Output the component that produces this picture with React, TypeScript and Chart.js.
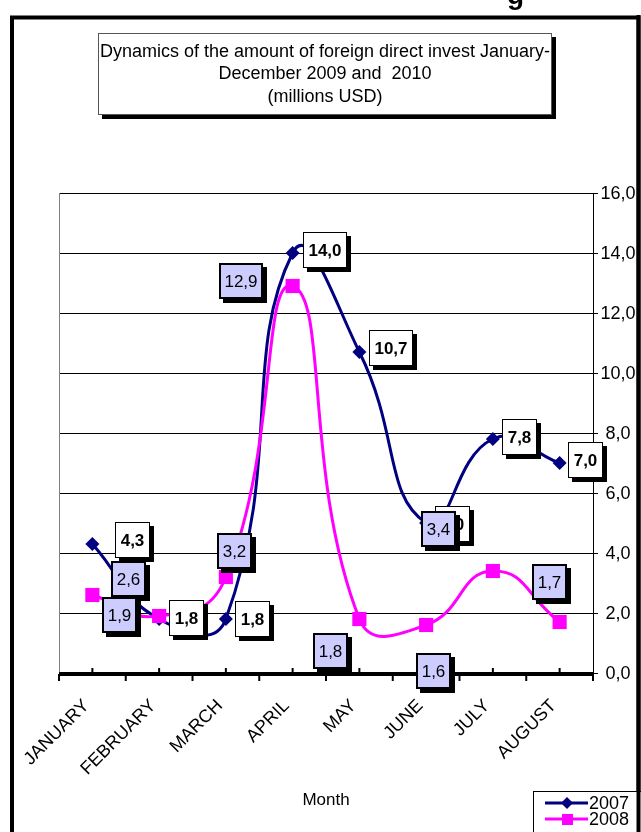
import React, { useEffect, useRef } from 'react';
import { Chart, registerables } from 'chart.js';

Chart.register(...registerables);

const months = ['JANUARY', 'FEBRUARY', 'MARCH', 'APRIL', 'MAY', 'JUNE', 'JULY', 'AUGUST'];
const series2007 = [4.3, 1.8, 1.8, 14.0, 10.7, 5.0, 7.8, 7.0];
const series2008 = [2.6, 1.9, 3.2, 12.9, 1.8, 1.6, 3.4, 1.7];
const yTickValues = [0, 2, 4, 6, 8, 10, 12, 14, 16];
const titleLines = [
  'Dynamics of the amount of foreign direct invest January-',
  'December 2009 and  2010',
  '(millions USD)',
];
const xAxisTitle = 'Month';
const seriesNames = ['2007', '2008'];

// label box offsets (px) relative to each point – layout only
const labelOffsets2007 = [[40, -4], [27, -1], [27, 0], [32, -3], [32, -4], [26, 1], [27, -2], [26, -3]];
const labelOffsets2008 = [[36, -16], [-40, -1], [9, -26], [-52, -5], [-29, 32], [7, 46], [-54, -42], [-10, -40]];

const FONT = '"Liberation Sans", Arial, sans-serif';
const NAVY = '#000080';
const MAGENTA = '#FF00FF';
const LAVENDER = '#CCCCFF';

const fmt = (v: number) => v.toFixed(1).replace('.', ',');

const decorPlugin = {
  id: 'decor',
  beforeDraw(chart: any) {
    const ctx = chart.ctx;
    ctx.save();
    ctx.fillStyle = '#fff';
    ctx.fillRect(0, 0, chart.width, chart.height);
    // partial text at top
    ctx.fillStyle = '#000';
    ctx.font = `bold 28px ${FONT}`;
    ctx.textAlign = 'left';
    ctx.textBaseline = 'alphabetic';
    ctx.fillText('g', 507, 4);
    // outer frame
    ctx.strokeStyle = '#000';
    ctx.lineWidth = 4;
    ctx.strokeRect(12, 17.5, 626.5, 1000);
    // title box
    ctx.fillStyle = '#000';
    ctx.fillRect(102, 37, 454, 82);
    ctx.fillStyle = '#fff';
    ctx.fillRect(98, 33, 454, 82);
    ctx.lineWidth = 1;
    ctx.strokeStyle = '#555';
    ctx.strokeRect(98.5, 33.5, 453, 81);
    ctx.fillStyle = '#000';
    ctx.font = `18px ${FONT}`;
    ctx.textAlign = 'center';
    ctx.textBaseline = 'middle';
    titleLines.forEach((t, i) => ctx.fillText(t, 325, 52 + i * 22.5));
    ctx.restore();
  },
  beforeDatasetsDraw(chart: any) {
    const ctx = chart.ctx;
    const a = chart.chartArea;
    ctx.save();
    ctx.strokeStyle = '#808080';
    ctx.lineWidth = 1;
    ctx.beginPath();
    ctx.moveTo(Math.round(a.left) + 0.5, a.top);
    ctx.lineTo(Math.round(a.left) + 0.5, a.bottom);
    ctx.stroke();
    ctx.restore();
  },
  afterDatasetsDraw(chart: any) {
    const ctx = chart.ctx;
    const a = chart.chartArea;
    const xs = chart.scales.x;
    ctx.save();
    // x axis line
    ctx.strokeStyle = '#000';
    ctx.lineWidth = 4;
    ctx.beginPath();
    ctx.moveTo(a.left, a.bottom + 1);
    ctx.lineTo(a.right, a.bottom + 1);
    ctx.stroke();
    // tick marks
    ctx.lineWidth = 2;
    const n = months.length * 2;
    for (let i = 0; i <= n; i++) {
      const x = a.left + (i * (a.right - a.left)) / n;
      ctx.beginPath();
      if (i % 2 === 1) {
        ctx.moveTo(x, a.bottom - 5);
        ctx.lineTo(x, a.bottom + 1);
      } else {
        ctx.moveTo(x, a.bottom + 1);
        ctx.lineTo(x, a.bottom + 8);
      }
      ctx.stroke();
    }
    // x category labels (rotated)
    ctx.fillStyle = '#000';
    ctx.font = `18px ${FONT}`;
    ctx.textAlign = 'right';
    ctx.textBaseline = 'middle';
    months.forEach((m, i) => {
      const x = xs.getPixelForValue(i);
      ctx.save();
      ctx.translate(x - 6, a.bottom + 30);
      ctx.rotate(-Math.PI / 4);
      ctx.fillText(m, 0, 0);
      ctx.restore();
    });
    // y tick labels
    const ys = chart.scales.y;
    ctx.fillStyle = '#000';
    ctx.font = `18px ${FONT}`;
    ctx.textAlign = 'center';
    ctx.textBaseline = 'middle';
    yTickValues.forEach((v) => ctx.fillText(fmt(v), 618, ys.getPixelForValue(v) + 1));
    // data labels
    const drawLabels = (di: number, vals: number[], offs: number[][], fill: string, bold: boolean, bw: number) => {
      const meta = chart.getDatasetMeta(di);
      ctx.font = `${bold ? 'bold ' : ''}17px ${FONT}`;
      vals.forEach((v, i) => {
        const el = meta.data[i];
        const cx = el.x + offs[i][0];
        const cy = el.y + offs[i][1];
        const txt = fmt(v);
        const tw = ctx.measureText(txt).width;
        const w = Math.round(tw + 11);
        const h = 36;
        const bx = Math.round(cx - w / 2);
        const by = Math.round(cy - h / 2);
        ctx.fillStyle = '#000';
        ctx.fillRect(bx + 4, by + 4, w, h);
        ctx.fillStyle = fill;
        ctx.fillRect(bx, by, w, h);
        ctx.strokeStyle = '#000';
        ctx.lineWidth = bw;
        ctx.strokeRect(bx + bw / 2, by + bw / 2, w - bw, h - bw);
        ctx.fillStyle = '#000';
        ctx.textAlign = 'center';
        ctx.textBaseline = 'middle';
        ctx.fillText(txt, bx + w / 2, by + h / 2 + 1);
      });
    };
    drawLabels(0, series2007, labelOffsets2007, '#fff', true, 1);
    drawLabels(1, series2008, labelOffsets2008, LAVENDER, false, 2);
    ctx.restore();
  },
  afterDraw(chart: any) {
    const ctx = chart.ctx;
    ctx.save();
    ctx.fillStyle = '#000';
    ctx.font = `17px ${FONT}`;
    ctx.textAlign = 'center';
    ctx.textBaseline = 'middle';
    ctx.fillText(xAxisTitle, 326, 800);
    // legend
    ctx.fillStyle = '#fff';
    ctx.fillRect(533, 791, 120, 60);
    ctx.strokeStyle = '#000';
    ctx.lineWidth = 1;
    ctx.strokeRect(533.5, 791.5, 120, 60);
    const entries = [
      { y: 803, color: NAVY, shape: 'diamond' },
      { y: 819, color: MAGENTA, shape: 'square' },
    ];
    entries.forEach((e, i) => {
      ctx.strokeStyle = e.color;
      ctx.lineWidth = 3;
      ctx.beginPath();
      ctx.moveTo(545, e.y);
      ctx.lineTo(588, e.y);
      ctx.stroke();
      ctx.fillStyle = e.color;
      ctx.beginPath();
      if (e.shape === 'diamond') {
        ctx.moveTo(567, e.y - 6);
        ctx.lineTo(573, e.y);
        ctx.lineTo(567, e.y + 6);
        ctx.lineTo(561, e.y);
        ctx.closePath();
        ctx.fill();
      } else {
        ctx.fillRect(562, e.y - 5, 11, 11);
      }
      ctx.fillStyle = '#000';
      ctx.font = `18px ${FONT}`;
      ctx.textAlign = 'left';
      ctx.textBaseline = 'middle';
      ctx.fillText(seriesNames[i], 589, e.y + 1);
    });
    // frame right edge
    ctx.strokeStyle = '#000';
    ctx.lineWidth = 4;
    ctx.beginPath();
    ctx.moveTo(638.5, 15);
    ctx.lineTo(638.5, 832);
    ctx.stroke();
    ctx.restore();
  },
};

export default function App() {
  const ref = useRef<HTMLCanvasElement | null>(null);
  useEffect(() => {
    if (!ref.current) return;
    const chart = new Chart(ref.current, {
      type: 'line',
      data: {
        labels: months,
        datasets: [
          {
            label: seriesNames[0],
            data: series2007,
            borderColor: NAVY,
            backgroundColor: NAVY,
            borderWidth: 3,
            tension: 0.5,
            pointStyle: 'rectRot',
            pointRadius: 7,
            pointBorderWidth: 0,
            pointBackgroundColor: NAVY,
            order: 2,
          },
          {
            label: seriesNames[1],
            data: series2008,
            borderColor: MAGENTA,
            backgroundColor: MAGENTA,
            borderWidth: 3,
            tension: 0.5,
            pointStyle: 'rect',
            pointRadius: 10,
            pointBorderWidth: 0,
            pointBackgroundColor: MAGENTA,
            order: 1,
          },
        ],
      },
      options: {
        responsive: false,
        animation: false,
        devicePixelRatio: 1,
        layout: { padding: { left: 59, top: 193, right: 0, bottom: 0 } },
        plugins: {
          legend: { display: false },
          title: { display: false },
          tooltip: { enabled: false },
        },
        scales: {
          x: {
            type: 'category',
            offset: true,
            grid: { display: false },
            border: { display: false },
            ticks: { display: false },
            afterFit: (s: any) => {
              s.height = 159;
            },
          },
          y: {
            position: 'right',
            min: 0,
            max: 16,
            ticks: { stepSize: 2, display: false },
            grid: { color: '#000', lineWidth: 1, tickLength: 5, drawTicks: true },
            border: { display: true, color: '#000', width: 1 },
            afterFit: (s: any) => {
              s.width = 48;
            },
          },
        },
      },
      plugins: [decorPlugin],
    });
    return () => chart.destroy();
  }, []);
  return (
    <div style={{ position: 'absolute', left: 0, top: 0, width: 641, height: 832, background: '#fff' }}>
      <canvas ref={ref} width={641} height={832} style={{ display: 'block' }} />
    </div>
  );
}
